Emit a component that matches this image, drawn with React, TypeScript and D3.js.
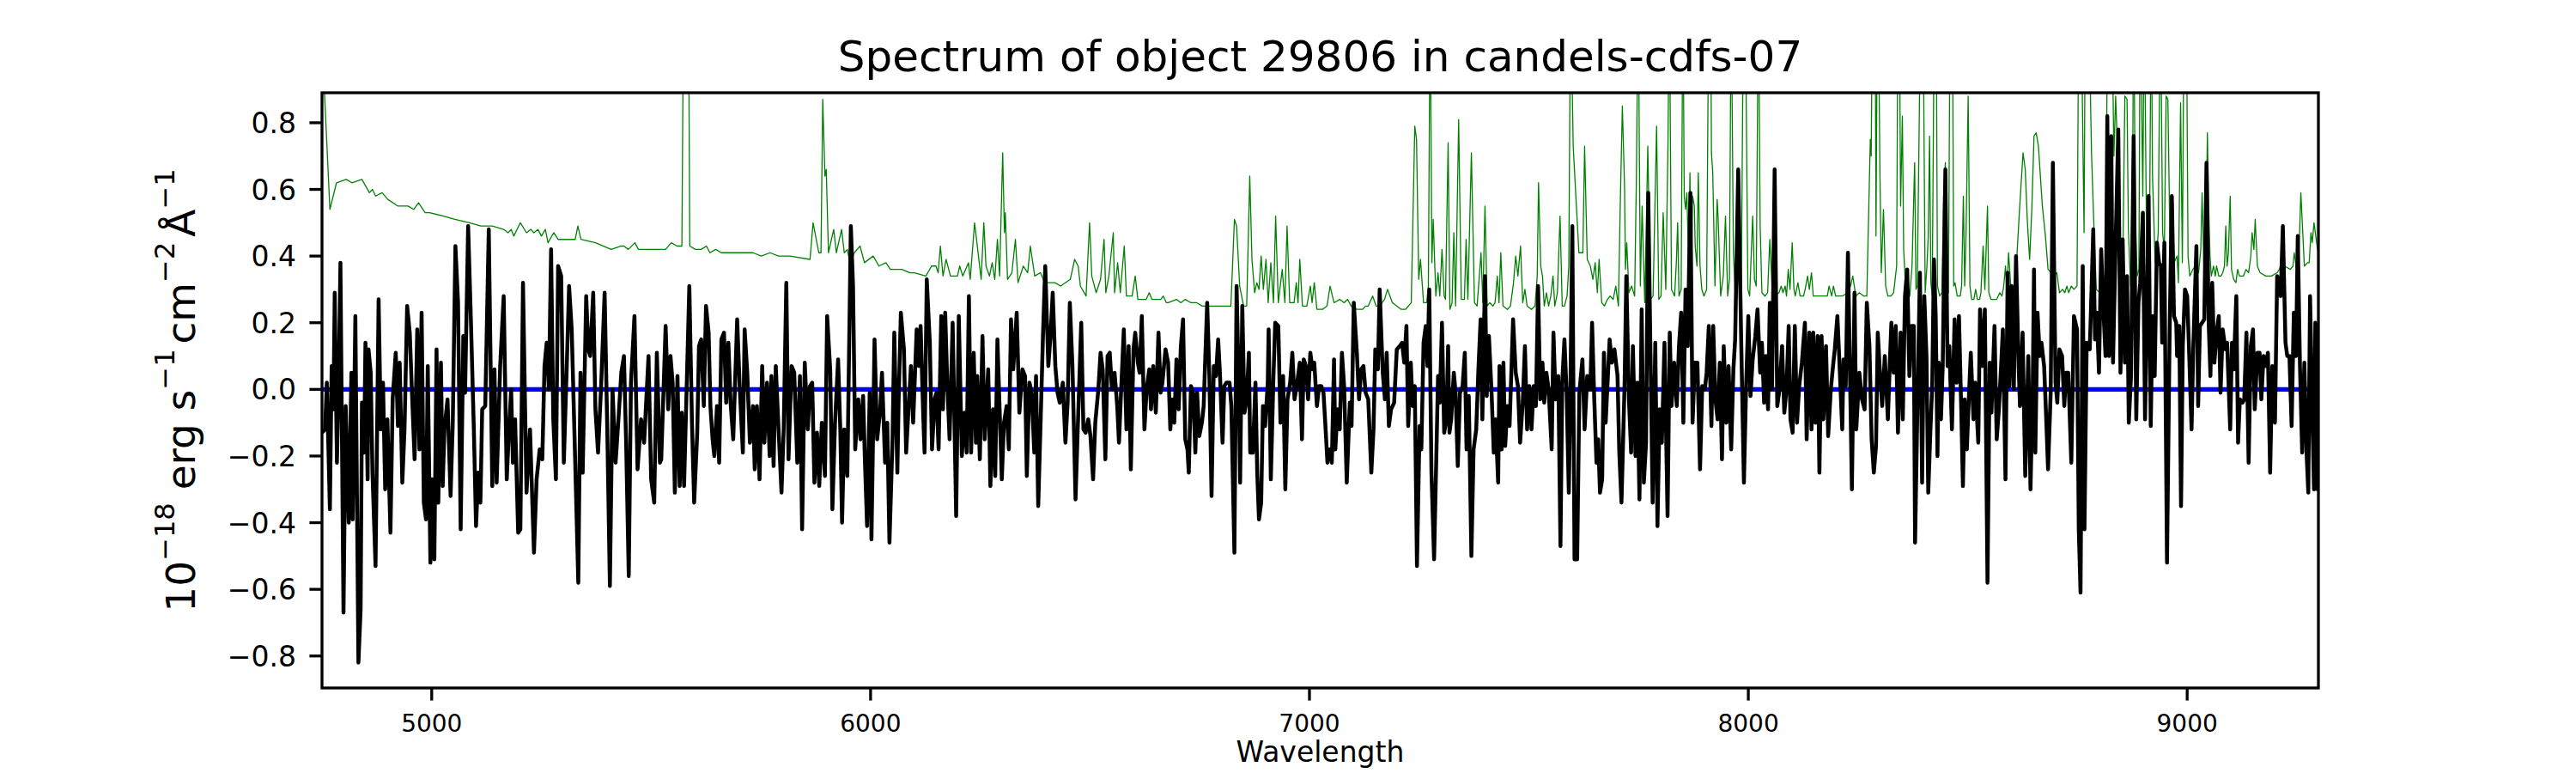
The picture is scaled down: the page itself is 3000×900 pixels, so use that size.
import * as d3 from "d3";

type Pt = [number, number];

const title = "Spectrum of object 29806 in candels-cdfs-07";
const xLabel = "Wavelength";
const xTicks = [5000, 6000, 7000, 8000, 9000];
const yTicks = [-0.8, -0.6, -0.4, -0.2, 0, 0.2, 0.4, 0.6, 0.8];
const xLimits: [number, number] = [4750, 9299];
const yLimits: [number, number] = [-0.896, 0.89];
const zeroLevel = 0;

// flux in wavelength chunks
const fluxA: Pt[] = [[4750,-0.13],[4757,-0.12],[4761,0.02],[4768,-0.36],[4772,0.07],[4776,-0.06],[4779,0.29],[4784,-0.22],[4788,0.02],[4792,0.38],[4799,-0.67],[4804,-0.05],[4811,-0.40],[4817,0.05],[4820,-0.39],[4826,0.22],[4833,-0.82],[4838,-0.66],[4841,-0.04],[4846,-0.19],[4849,0.14],[4854,-0.27],[4856,0.12],[4861,0.05],[4865,-0.25],[4872,-0.53],[4879,0.27],[4884,-0.12],[4889,0.02],[4894,-0.30],[4899,-0.09],[4906,-0.43],[4911,-0.03],[4918,0.11],[4923,-0.11],[4927,0.08],[4933,-0.28],[4938,-0.12],[4944,0.25],[4950,0.17],[4955,-0.01],[4961,-0.21],[4967,0.18],[4972,-0.18],[4977,0.23],[4982,-0.34],[4987,-0.39],[4991,0.07],[4997,-0.52],[5001,-0.27],[5006,-0.51],[5011,0.12],[5015,-0.34],[5021,0.08],[5025,-0.29],[5029,-0.12],[5036,-0.03],[5043,-0.32],[5048,-0.10],[5054,0.43],[5060,0.26],[5066,-0.42],[5072,0.16],[5076,-0.01],[5083,0.49],[5089,0.22],[5096,-0.12],[5101,-0.41],[5106,-0.25],[5111,-0.34],[5115,-0.06],[5122,-0.05],[5130,0.48],[5138,-0.29],[5143,0.06],[5148,-0.28],[5156,0.07],[5164,0.28],[5171,-0.27],[5175,-0.15],[5181,0.00],[5185,-0.22],[5190,-0.09],[5197,-0.43],[5202,-0.42],[5208,0.32],[5216,-0.31],[5224,-0.12],[5233,-0.49],[5239,-0.27],[5246,-0.18],[5252,-0.21],[5257,0.07],[5262,0.14],[5267,0.00],[5272,0.42],[5277,-0.09],[5283,-0.27],[5288,0.37],[5295,0.34],[5301,-0.22],[5308,0.08],[5313,0.31],[5319,0.18],[5326,-0.17],[5334,-0.58],[5339,0.05],[5344,-0.25],[5352,0.28],[5357,0.12],[5361,0.10],[5368,0.29],[5373,-0.06],[5379,-0.19],[5386,0.01],[5394,0.29],[5400,-0.12],[5406,-0.59],[5412,0.00],[5419,-0.22],[5425,-0.10],[5432,0.05],[5438,0.10],[5443,-0.16],[5449,-0.56],[5454,0.02],[5462,0.22],[5469,-0.24],[5477,-0.09],[5484,-0.16],[5494,0.10],[5500,-0.27],[5507,-0.34],[5513,0.11],[5520,-0.22]];
const fluxB: Pt[] = [[5523,-0.21],[5533,0.19],[5539,-0.06],[5544,0.10],[5549,0.02],[5554,-0.31],[5560,0.04],[5565,-0.29],[5570,-0.07],[5575,-0.29],[5580,-0.04],[5587,0.31],[5593,-0.10],[5598,-0.34],[5605,-0.13],[5609,0.13],[5614,0.15],[5620,-0.05],[5625,0.25],[5631,0.17],[5635,-0.05],[5640,-0.15],[5644,-0.20],[5650,-0.05],[5655,-0.22],[5660,0.15],[5666,0.17],[5671,-0.04],[5676,0.14],[5681,-0.04],[5687,-0.15],[5696,0.21],[5702,0.00],[5709,-0.19],[5713,0.18],[5719,0.05],[5725,-0.16],[5732,-0.05],[5736,-0.24],[5741,-0.05],[5747,-0.27],[5753,0.07],[5758,-0.16],[5764,0.02],[5770,-0.20],[5774,0.04],[5779,-0.23],[5784,0.07],[5790,-0.11],[5797,-0.31],[5802,-0.12],[5808,0.32],[5813,-0.21],[5820,0.07],[5826,0.05],[5833,-0.22],[5839,0.04],[5844,-0.42],[5850,0.08],[5857,-0.12],[5862,0.01],[5867,0.02],[5872,-0.28],[5878,-0.13],[5883,-0.29],[5889,-0.10],[5896,-0.26],[5901,0.22],[5908,0.06],[5913,-0.36],[5919,-0.10],[5926,0.09],[5931,-0.12],[5935,-0.40],[5940,-0.12],[5947,-0.26],[5955,0.49],[5960,0.31],[5965,-0.18],[5972,-0.03],[5977,-0.15],[5983,-0.02],[5987,-0.21],[5992,-0.41],[5998,-0.01],[6002,-0.45],[6009,0.15],[6015,-0.15],[6022,-0.06],[6026,0.05],[6033,-0.22],[6038,-0.10],[6043,-0.46],[6050,-0.15],[6054,0.17],[6061,-0.25],[6064,-0.03],[6069,0.23],[6076,0.12],[6081,-0.19],[6086,-0.07],[6092,0.07],[6097,-0.10]];
const fluxC: Pt[] = [[6105,0.18],[6110,0.07],[6114,0.19],[6120,-0.08],[6123,-0.19],[6128,0.33],[6135,0.14],[6140,-0.18],[6146,-0.03],[6150,-0.01],[6155,-0.18],[6161,0.22],[6165,-0.06],[6170,0.23],[6175,0.01],[6180,-0.15],[6187,0.20],[6195,-0.38],[6201,0.22],[6208,-0.20],[6214,-0.07],[6219,-0.19],[6224,0.28],[6229,-0.19],[6235,0.11],[6240,-0.16],[6243,0.04],[6249,-0.21],[6255,0.16],[6260,-0.15],[6268,0.06],[6273,-0.29],[6279,-0.06],[6284,-0.26],[6289,0.15],[6294,-0.06],[6299,-0.27],[6304,-0.10],[6310,-0.05],[6315,-0.18],[6320,0.21],[6325,0.06],[6333,0.23],[6339,-0.07],[6346,0.06],[6352,0.04],[6356,-0.26],[6362,0.02],[6367,-0.01],[6373,-0.19],[6377,0.04],[6382,-0.35],[6388,-0.07],[6393,0.17],[6398,0.37],[6405,0.07],[6410,0.16],[6415,0.29],[6421,0.07],[6426,-0.01],[6431,-0.04],[6438,0.02],[6444,-0.16],[6449,-0.04],[6454,0.26],[6460,0.07],[6467,-0.33],[6473,-0.08],[6480,0.20],[6485,-0.12],[6490,-0.13],[6496,-0.09],[6501,-0.14],[6507,-0.27],[6512,-0.10],[6519,0.00],[6524,0.11],[6529,0.06],[6535,-0.21],[6540,0.10],[6545,0.11],[6550,0.00],[6556,0.05],[6562,-0.05],[6566,-0.16],[6571,0.00],[6577,0.18],[6583,-0.12],[6588,0.13],[6593,-0.24],[6599,0.12],[6603,0.17],[6609,0.08],[6613,0.05],[6618,0.22],[6624,-0.12],[6629,0.00],[6635,0.06],[6639,-0.06],[6644,0.07],[6650,-0.07],[6656,0.17],[6661,-0.01],[6665,0.02],[6672,0.12]];
const fluxD: Pt[] = [[6678,0.08],[6683,-0.12],[6687,-0.03],[6692,-0.10],[6697,0.09],[6702,-0.06],[6707,0.13],[6712,0.21],[6717,-0.15],[6722,-0.18],[6725,-0.25],[6730,0.01],[6735,-0.01],[6740,-0.19],[6744,-0.01],[6749,-0.14],[6755,-0.10],[6759,-0.05],[6762,0.07],[6767,0.26],[6772,0.04],[6777,-0.32],[6782,0.07],[6787,0.04],[6792,0.15],[6796,0.05],[6802,-0.16],[6806,0.01],[6811,0.02],[6818,0.02],[6822,-0.05],[6829,-0.49],[6834,0.31],[6839,0.01],[6842,-0.28],[6847,0.25],[6852,-0.07],[6857,-0.03],[6862,0.11],[6865,-0.19],[6871,-0.19],[6877,0.02],[6881,-0.25],[6885,-0.39],[6890,-0.34],[6894,-0.05],[6899,-0.11],[6905,0.02],[6907,0.18],[6912,-0.27],[6918,0.04],[6922,0.20],[6929,0.19],[6934,-0.10],[6940,0.04],[6945,-0.30],[6950,-0.03],[6956,0.02],[6961,0.11],[6966,-0.03],[6972,0.02],[6978,0.08],[6983,-0.15],[6987,0.09],[6992,0.07],[6997,-0.03],[7002,0.11],[7007,0.06],[7011,0.08],[7017,-0.05],[7022,0.01],[7027,0.01],[7032,-0.01],[7036,-0.10],[7041,-0.22],[7046,-0.18],[7051,-0.22],[7056,0.09],[7059,-0.18],[7064,-0.06],[7069,-0.12],[7074,0.11],[7079,0.01],[7085,-0.28],[7092,-0.04],[7096,-0.11],[7101,0.26],[7108,0.11],[7113,-0.03],[7118,0.06],[7123,0.07],[7128,-0.01],[7134,-0.03],[7141,-0.25],[7146,-0.12],[7150,0.12],[7156,0.06],[7160,0.30],[7167,0.05],[7172,-0.03],[7176,0.11],[7181,-0.11],[7186,-0.06],[7193,-0.04],[7199,0.12],[7206,0.13],[7211,0.14],[7216,0.08],[7221,0.19],[7225,-0.11],[7231,0.08],[7235,-0.05],[7240,0.01],[7245,-0.53],[7251,-0.11]];
const fluxE: Pt[] = [[7255,-0.18],[7260,0.14],[7265,0.19],[7269,0.07],[7273,0.30],[7278,-0.25],[7284,-0.51],[7289,-0.21],[7293,0.04],[7297,-0.04],[7302,0.20],[7307,-0.13],[7312,-0.09],[7316,0.13],[7319,-0.13],[7323,-0.09],[7329,0.05],[7333,-0.01],[7338,-0.23],[7343,-0.01],[7349,0.01],[7354,0.11],[7358,-0.18],[7363,-0.02],[7369,-0.50],[7374,-0.18],[7380,-0.12],[7385,0.06],[7390,0.21],[7394,-0.09],[7400,0.34],[7404,-0.02],[7409,0.16],[7415,-0.01],[7420,-0.19],[7424,-0.09],[7430,-0.28],[7433,0.07],[7438,-0.18],[7442,0.08],[7446,-0.17],[7451,-0.05],[7456,-0.11],[7464,0.21],[7470,0.05],[7475,0.01],[7480,-0.16],[7486,-0.04],[7491,0.13],[7496,-0.12],[7501,0.01],[7506,-0.12],[7511,0.01],[7516,-0.05],[7521,0.31],[7526,-0.03],[7531,0.08],[7535,-0.04],[7540,0.05],[7545,0.00],[7552,-0.18],[7556,0.17],[7561,-0.03],[7567,0.04],[7572,-0.47],[7576,0.02],[7581,0.15],[7586,-0.01],[7591,-0.31],[7594,-0.07],[7599,0.49],[7604,-0.51],[7610,-0.51],[7615,-0.01],[7622,0.09],[7627,-0.12],[7633,0.04],[7640,0.00],[7644,0.20],[7649,-0.03],[7654,-0.22],[7658,-0.15],[7662,-0.31],[7667,-0.27],[7671,0.11],[7675,-0.10],[7684,0.15],[7689,0.08],[7695,0.12],[7702,0.04],[7706,-0.19],[7711,-0.34],[7718,0.01],[7722,0.34],[7728,-0.03],[7733,-0.19],[7737,0.13],[7743,-0.20],[7747,0.02],[7752,-0.33],[7757,0.24],[7762,-0.28],[7767,-0.16],[7772,0.59],[7777,0.11],[7782,-0.34],[7788,0.14],[7793,-0.41],[7798,-0.06],[7803,-0.16],[7809,0.14],[7816,-0.38],[7821,0.17],[7825,-0.05],[7831,0.08]];
const fluxF: Pt[] = [[7837,-0.05],[7842,0.13],[7847,0.23],[7852,-0.10],[7857,0.30],[7862,0.13],[7868,0.59],[7873,-0.10],[7878,0.08],[7884,0.08],[7890,-0.24],[7895,0.01],[7901,0.00],[7905,0.05],[7910,0.19],[7916,-0.11],[7920,0.19],[7925,-0.03],[7930,-0.09],[7935,0.08],[7940,-0.21],[7944,0.13],[7950,-0.10],[7955,0.07],[7961,-0.18],[7966,0.06],[7970,0.15],[7977,0.66],[7984,0.13],[7990,-0.28],[7995,0.01],[8000,0.22],[8005,-0.02],[8010,0.09],[8016,0.16],[8021,0.24],[8027,0.05],[8031,0.14],[8036,-0.04],[8040,0.10],[8045,-0.06],[8049,0.26],[8054,0.00],[8060,0.66],[8066,-0.05],[8071,0.00],[8077,0.13],[8082,-0.07],[8087,0.00],[8092,0.19],[8096,-0.09],[8101,-0.13],[8106,0.19],[8111,-0.10],[8116,0.01],[8122,0.08],[8129,0.20],[8133,-0.15],[8139,0.17],[8144,-0.12],[8148,0.17],[8153,-0.10],[8158,0.16],[8162,-0.25],[8167,0.16],[8171,-0.09],[8177,0.13],[8182,-0.14],[8188,0.00],[8193,0.07],[8197,0.12],[8203,0.22],[8207,0.10],[8214,-0.12],[8217,0.09],[8222,0.01],[8227,0.41],[8231,0.10],[8236,-0.30],[8242,0.29],[8246,-0.12],[8253,0.05],[8259,-0.03],[8265,-0.06],[8270,0.26],[8276,0.13],[8281,-0.15],[8286,-0.25],[8291,-0.17],[8295,0.17],[8300,0.05],[8305,-0.05],[8311,0.10],[8318,-0.09],[8323,0.10],[8326,0.20],[8331,0.05],[8336,0.19],[8341,-0.13],[8347,0.17],[8352,-0.09],[8357,0.28],[8362,0.36],[8367,0.04],[8372,0.19],[8377,0.19],[8380,-0.46],[8386,0.00],[8391,0.35],[8396,-0.28],[8401,0.28],[8406,0.10]];
const fluxG: Pt[] = [[8410,-0.31],[8415,-0.12],[8419,0.01],[8423,0.39],[8427,0.22],[8431,-0.20],[8434,0.08],[8439,-0.09],[8443,0.07],[8449,0.66],[8454,0.07],[8458,0.13],[8464,-0.12],[8470,0.21],[8475,0.02],[8480,0.22],[8485,-0.05],[8489,-0.29],[8493,-0.03],[8498,-0.18],[8503,-0.01],[8507,0.11],[8513,-0.09],[8517,0.02],[8524,-0.16],[8528,0.24],[8533,0.07],[8539,0.24],[8545,-0.58],[8550,0.08],[8554,-0.07],[8561,0.19],[8566,-0.15],[8571,-0.06],[8576,0.07],[8580,0.18],[8586,-0.27],[8591,0.35],[8595,0.01],[8600,0.31],[8605,0.00],[8610,0.40],[8616,0.07],[8619,-0.05],[8625,0.17],[8631,-0.26],[8638,0.10],[8643,-0.30],[8648,0.00],[8651,0.36],[8654,-0.19],[8659,0.23],[8664,0.10],[8668,0.14],[8674,0.07],[8678,-0.06],[8683,-0.24],[8689,-0.01],[8694,0.68],[8700,0.02],[8704,-0.04],[8709,0.12],[8715,0.10],[8720,-0.05],[8724,0.05],[8729,0.05],[8736,-0.22],[8742,0.22],[8749,0.18],[8753,-0.42],[8757,-0.61],[8762,0.37],[8766,-0.42],[8771,0.14],[8778,0.12],[8781,0.25],[8786,0.48],[8790,0.15],[8794,0.23],[8799,0.05],[8804,0.42],[8809,0.24],[8814,0.10],[8818,0.82],[8822,0.10],[8827,0.76],[8831,0.08],[8837,0.44],[8843,0.78],[8848,0.05],[8853,0.45],[8858,0.08],[8863,0.34],[8867,-0.10],[8872,0.04],[8878,0.76],[8884,-0.09],[8889,0.26],[8893,0.32],[8899,0.53],[8904,-0.09],[8908,0.20],[8912,0.58],[8917,-0.11],[8921,0.22],[8926,0.04],[8931,0.44],[8936,0.38],[8940,0.37],[8943,0.14],[8948,0.44],[8954,-0.52],[8960,0.17],[8965,0.58],[8970,0.22],[8975,0.20]];
const fluxH: Pt[] = [[8977,0.10],[8982,0.19],[8986,-0.35],[8990,0.13],[8995,0.30],[9000,0.28],[9004,0.13],[9010,-0.12],[9014,0.13],[9021,0.43],[9025,-0.05],[9029,0.19],[9034,0.20],[9039,0.21],[9044,0.68],[9049,0.20],[9053,0.04],[9057,0.32],[9062,0.08],[9067,0.17],[9072,0.22],[9076,-0.01],[9081,0.18],[9087,0.12],[9091,0.14],[9098,-0.12],[9102,0.14],[9106,0.06],[9112,0.28],[9116,-0.16],[9120,-0.03],[9126,-0.04],[9130,-0.03],[9135,0.17],[9140,-0.22],[9145,0.13],[9150,0.18],[9154,-0.06],[9160,0.11],[9165,0.11],[9169,-0.03],[9174,0.10],[9179,0.07],[9184,0.11],[9189,-0.25],[9194,0.07],[9200,-0.10],[9205,0.34],[9210,0.32],[9213,0.28],[9218,0.49],[9224,0.14],[9228,0.10],[9233,0.10],[9238,-0.11],[9243,0.23],[9248,0.10],[9252,0.46],[9257,0.07],[9262,-0.19],[9267,0.08],[9272,-0.19],[9276,-0.31],[9280,0.28],[9285,-0.06],[9289,-0.30],[9292,0.20],[9297,-0.30],[9301,0.20]];

// noise spectrum (green); 1.2 marks spikes that run off the top of the axes
const noiseA: Pt[] = [[4750,1.05],[4768,0.54],[4783,0.62],[4805,0.63],[4818,0.62],[4841,0.63],[4858,0.59],[4865,0.60],[4872,0.58],[4887,0.59],[4900,0.57],[4923,0.55],[4946,0.55],[4959,0.54],[4970,0.56],[4985,0.53],[4995,0.53],[5027,0.52],[5053,0.51],[5086,0.50],[5112,0.49],[5125,0.49],[5138,0.49],[5164,0.48],[5174,0.47],[5181,0.48],[5187,0.46],[5202,0.50],[5216,0.47],[5226,0.48],[5233,0.47],[5242,0.48],[5250,0.46],[5259,0.48],[5265,0.44],[5278,0.47],[5288,0.45],[5308,0.45],[5327,0.45],[5333,0.49],[5340,0.45],[5373,0.44],[5409,0.42],[5432,0.43],[5438,0.43],[5448,0.42],[5463,0.44],[5471,0.42],[5503,0.42]];
const noiseB: Pt[] = [[5523,0.42],[5533,0.42],[5546,0.44],[5559,0.43],[5570,0.43],[5574,1.2],[5585,1.2],[5588,0.43],[5601,0.42],[5614,0.42],[5626,0.43],[5634,0.41],[5647,0.42],[5660,0.41],[5680,0.41],[5699,0.41],[5732,0.41],[5751,0.40],[5771,0.41],[5790,0.40],[5816,0.40],[5862,0.39],[5869,0.50],[5882,0.41],[5887,0.41],[5891,0.87],[5896,0.64],[5899,0.66],[5904,0.41],[5916,0.48],[5922,0.41],[5934,0.48],[5940,0.41],[5947,0.42],[5953,0.38],[5963,0.41],[5976,0.43],[5986,0.38],[6006,0.40],[6019,0.37],[6035,0.38],[6045,0.36],[6071,0.36],[6090,0.35]];
const noiseC: Pt[] = [[6100,0.35],[6126,0.34],[6139,0.37],[6149,0.37],[6154,0.35],[6159,0.43],[6165,0.34],[6172,0.39],[6182,0.34],[6198,0.34],[6203,0.37],[6210,0.34],[6223,0.38],[6227,0.33],[6237,0.50],[6252,0.33],[6258,0.50],[6263,0.37],[6271,0.34],[6277,0.38],[6283,0.33],[6289,0.45],[6294,0.34],[6301,0.71],[6305,0.47],[6307,0.53],[6312,0.33],[6322,0.35],[6330,0.45],[6336,0.32],[6348,0.37],[6358,0.35],[6364,0.43],[6374,0.34],[6387,0.35],[6397,0.32],[6410,0.32],[6420,0.32],[6433,0.31],[6455,0.33],[6465,0.39],[6473,0.37],[6478,0.31],[6491,0.28],[6499,0.50],[6504,0.34],[6514,0.29],[6524,0.33],[6532,0.45],[6536,0.29],[6543,0.34],[6553,0.47],[6556,0.29],[6563,0.38],[6569,0.29],[6578,0.43],[6583,0.28],[6596,0.28],[6603,0.34],[6609,0.27],[6628,0.27],[6635,0.29],[6641,0.27],[6661,0.27],[6667,0.28],[6674,0.26]];
const noiseD: Pt[] = [[6678,0.26],[6697,0.27],[6707,0.26],[6717,0.27],[6730,0.26],[6743,0.26],[6756,0.25],[6782,0.25],[6795,0.25],[6821,0.25],[6829,0.51],[6834,0.49],[6841,0.31],[6850,0.25],[6857,0.25],[6864,0.64],[6869,0.39],[6875,0.29],[6880,0.32],[6885,0.30],[6890,0.40],[6895,0.30],[6901,0.39],[6906,0.26],[6912,0.38],[6918,0.26],[6923,0.52],[6929,0.26],[6938,0.36],[6944,0.26],[6949,0.49],[6955,0.26],[6965,0.26],[6970,0.32],[6974,0.26],[6978,0.39],[6984,0.25],[6994,0.25],[7002,0.31],[7006,0.26],[7011,0.32],[7017,0.24],[7030,0.24],[7040,0.25],[7047,0.31],[7056,0.26],[7069,0.27],[7079,0.26],[7087,0.27],[7095,0.25],[7108,0.24],[7121,0.24],[7128,0.25],[7134,0.25],[7144,0.28],[7152,0.25],[7160,0.25],[7171,0.27],[7178,0.30],[7189,0.26],[7199,0.25],[7209,0.24],[7219,0.24],[7232,0.26],[7240,0.79],[7244,0.75],[7249,0.33],[7253,0.39]];
const noiseE: Pt[] = [[7260,0.26],[7267,0.26],[7271,0.31],[7275,1.2],[7279,0.38],[7282,0.51],[7288,0.28],[7293,0.35],[7297,0.28],[7302,0.42],[7307,0.28],[7310,0.27],[7316,0.74],[7320,0.24],[7325,0.26],[7329,0.47],[7333,0.25],[7340,0.81],[7346,0.27],[7353,0.27],[7357,0.45],[7361,0.27],[7369,0.71],[7376,0.26],[7382,0.25],[7391,0.41],[7395,0.26],[7400,0.55],[7405,0.25],[7411,0.26],[7418,0.25],[7423,0.26],[7428,0.34],[7432,0.26],[7436,0.41],[7441,0.25],[7451,0.24],[7458,0.25],[7465,0.32],[7470,0.40],[7475,0.34],[7481,0.43],[7486,0.26],[7491,0.30],[7496,0.25],[7506,0.24],[7514,0.25],[7519,0.34],[7522,0.62],[7527,0.37],[7531,0.34],[7535,0.25],[7540,0.29],[7545,0.25],[7550,0.28],[7555,0.34],[7559,0.25],[7565,0.29],[7571,0.52],[7576,0.25],[7581,0.25],[7587,0.28],[7591,0.37],[7595,1.2],[7601,0.73],[7607,0.58],[7614,0.41],[7623,0.41],[7627,0.73],[7633,0.39],[7640,0.37],[7646,0.33],[7651,0.38],[7656,0.29],[7660,0.39],[7666,0.26],[7672,0.25],[7679,0.27],[7685,0.28],[7692,0.27],[7698,0.31],[7704,0.25],[7708,0.54],[7713,0.85],[7718,0.61],[7720,0.36],[7723,0.44],[7728,0.29],[7734,0.31],[7741,0.28],[7745,0.64],[7749,1.2],[7754,0.31],[7758,0.55],[7764,0.26],[7771,0.73],[7777,0.27],[7783,0.28],[7791,0.79],[7796,0.27],[7801,0.28],[7806,0.53],[7812,0.30],[7817,0.74],[7820,1.2],[7825,0.30]];
const noiseF: Pt[] = [[7832,0.28],[7836,0.38],[7839,0.50],[7842,0.28],[7847,0.30],[7851,1.2],[7854,0.58],[7857,0.54],[7860,0.59],[7864,0.38],[7867,0.65],[7870,0.31],[7873,0.58],[7877,0.55],[7879,0.43],[7883,0.37],[7886,0.65],[7890,0.37],[7894,0.30],[7899,0.28],[7905,0.30],[7910,1.2],[7914,1.2],[7916,0.71],[7919,0.65],[7924,0.31],[7929,0.57],[7931,0.52],[7937,0.28],[7943,0.34],[7948,0.52],[7953,0.28],[7957,0.33],[7961,1.2],[7966,0.41],[7970,0.29],[7976,0.34],[7984,0.29],[7989,1.2],[7993,1.2],[7999,0.30],[8003,0.28],[8010,0.52],[8014,0.33],[8018,0.31],[8023,1.2],[8027,0.49],[8031,0.29],[8038,0.28],[8044,0.29],[8049,0.45],[8054,0.31],[8060,0.28],[8070,0.29],[8075,0.31],[8079,0.29],[8084,0.31],[8087,0.28],[8091,0.36],[8095,0.30],[8100,0.44],[8104,0.30],[8107,0.28],[8113,0.32],[8118,0.28],[8126,0.28],[8131,0.31],[8135,0.34],[8139,0.30],[8144,0.35],[8148,0.28],[8155,0.28],[8168,0.28],[8175,0.28],[8180,0.28],[8184,0.31],[8190,0.28],[8194,0.31],[8199,0.28],[8214,0.28],[8227,0.29],[8233,0.31],[8238,0.34],[8245,0.28],[8253,0.29],[8263,0.28],[8270,0.28],[8278,0.75],[8280,0.70],[8283,1.2],[8289,1.2],[8291,0.46],[8294,1.2],[8296,1.2],[8300,0.64],[8303,0.35],[8308,0.54],[8313,0.31],[8318,0.28],[8325,0.28],[8331,0.29],[8338,0.37],[8341,1.2],[8344,1.2],[8347,0.55],[8351,0.82],[8354,0.42],[8359,0.29],[8364,0.31],[8368,0.28],[8373,0.37],[8379,0.68],[8382,0.30],[8385,0.31],[8393,1.2],[8398,1.2],[8403,0.29],[8407,0.37]];
const noiseG: Pt[] = [[8410,0.46],[8413,0.76],[8416,0.32],[8419,0.28],[8424,1.2],[8428,1.2],[8431,0.31],[8436,0.28],[8441,0.29],[8445,0.58],[8449,0.68],[8452,0.35],[8456,0.29],[8460,1.2],[8465,1.2],[8468,0.31],[8471,0.32],[8476,0.28],[8483,0.28],[8486,0.31],[8490,0.58],[8493,0.31],[8496,0.46],[8501,0.88],[8505,0.31],[8509,0.27],[8514,0.27],[8518,0.30],[8522,0.27],[8527,0.27],[8530,0.29],[8535,0.43],[8539,0.30],[8545,0.55],[8548,0.29],[8553,0.27],[8566,0.27],[8573,0.29],[8578,0.28],[8582,0.31],[8586,0.37],[8589,0.29],[8593,0.41],[8599,0.29],[8605,0.29],[8612,0.40],[8618,0.54],[8626,0.71],[8631,0.66],[8636,0.50],[8641,0.39],[8646,0.54],[8651,0.76],[8656,0.77],[8661,0.73],[8665,0.65],[8670,0.55],[8677,0.46],[8683,0.36],[8690,0.35],[8696,0.34],[8703,0.35],[8709,0.29],[8716,0.30],[8721,0.29],[8726,0.31],[8730,0.29],[8736,0.31],[8742,0.30],[8749,0.31],[8753,1.2],[8758,1.2],[8765,0.47],[8768,1.2],[8775,1.2],[8782,0.71],[8788,0.47],[8793,0.30],[8801,0.29],[8807,0.31],[8814,0.35],[8819,1.2],[8824,1.2],[8828,1.2],[8833,0.70],[8837,0.88],[8843,0.65],[8848,0.44],[8853,0.35],[8858,0.88],[8863,0.87],[8866,0.48],[8871,0.31],[8876,0.70],[8878,1.2],[8882,0.50],[8886,0.34],[8890,0.36],[8893,1.2],[8899,0.58],[8902,1.2],[8908,0.38],[8914,0.42],[8918,1.2],[8921,0.64],[8927,0.38],[8931,0.42],[8934,0.47],[8939,1.2],[8944,0.47],[8948,0.42],[8952,0.88],[8956,0.87],[8961,0.42],[8967,0.58],[8970,0.38],[8977,0.40]];
const noiseH: Pt[] = [[8980,0.32],[8985,0.86],[8989,0.38],[8993,1.2],[8998,1.2],[9002,0.40],[9006,0.34],[9013,0.36],[9019,0.37],[9026,0.35],[9031,0.42],[9034,0.59],[9038,0.37],[9042,0.36],[9046,0.77],[9049,0.55],[9052,0.40],[9055,0.34],[9060,0.37],[9064,0.34],[9067,0.37],[9072,0.34],[9077,0.34],[9081,0.35],[9085,0.37],[9088,0.49],[9091,0.37],[9094,0.41],[9098,0.58],[9101,0.36],[9106,0.33],[9111,0.32],[9115,0.36],[9119,0.34],[9128,0.34],[9134,0.36],[9140,0.35],[9145,0.40],[9148,0.47],[9152,0.42],[9155,0.51],[9160,0.37],[9166,0.35],[9179,0.34],[9192,0.34],[9205,0.35],[9210,0.36],[9215,0.38],[9222,0.37],[9235,0.36],[9241,0.37],[9244,0.41],[9250,0.35],[9254,0.38],[9259,0.59],[9263,0.48],[9267,0.37],[9274,0.38],[9278,0.38],[9282,0.47],[9285,0.44],[9289,0.50],[9293,0.46],[9297,0.42],[9301,0.45]];

const flux = [...fluxA, ...fluxB, ...fluxC, ...fluxD, ...fluxE, ...fluxF, ...fluxG, ...fluxH];
const noise = [...noiseA, ...noiseB, ...noiseC, ...noiseD, ...noiseE, ...noiseF, ...noiseG, ...noiseH];

const width = 3000;
const height = 900;
const margin = { left: 375, right: 300, top: 108, bottom: 99 };
const font = "DejaVu Sans, sans-serif";
const tickLen = 14.6;
const spineW = 3.3;

export default function App() {
  const x = d3.scaleLinear().domain(xLimits).range([margin.left, width - margin.right]);
  const y = d3.scaleLinear().domain(yLimits).range([height - margin.bottom, margin.top]);
  const line = d3.line<Pt>().x((d) => x(d[0])).y((d) => y(d[1]));
  const fmt = d3.format(".1f");

  const [x0, x1] = x.range();
  const [yb, yt] = y.range();

  // superscript pieces of the y label
  const sup = { fontSize: 32 };
  const raise = 24;

  return (
    <svg
      width={width}
      height={height}
      viewBox={`0 0 ${width} ${height}`}
      style={{ position: "absolute", left: 0, top: 0, background: "#fff" }}
      fontFamily={font}
    >
      <rect x={0} y={0} width={width} height={height} fill="#fff" />
      <defs>
        <clipPath id="plotArea">
          <rect x={x0} y={yt} width={x1 - x0} height={yb - yt} />
        </clipPath>
      </defs>

      <g clipPath="url(#plotArea)">
        <line x1={x0} x2={x1} y1={y(zeroLevel)} y2={y(zeroLevel)} stroke="#0000ff" strokeWidth={5.2} />
        <path d={line(noise) ?? ""} fill="none" stroke="#008000" strokeWidth={1.3} strokeLinejoin="round" />
        <path d={line(flux) ?? ""} fill="none" stroke="#000" strokeWidth={4.5} strokeLinejoin="round" />
      </g>

      {/* frame */}
      <rect x={x0} y={yt} width={x1 - x0} height={yb - yt} fill="none" stroke="#000" strokeWidth={spineW} />

      {/* x axis */}
      <g>
        {xTicks.map((t) => (
          <g key={t}>
            <line x1={x(t)} x2={x(t)} y1={yb} y2={yb + tickLen} stroke="#000" strokeWidth={spineW} />
            <text x={x(t)} y={852} fontSize={28} textAnchor="middle">{t}</text>
          </g>
        ))}
        <text x={(x0 + x1) / 2} y={887} fontSize={33} textAnchor="middle">{xLabel}</text>
      </g>

      {/* y axis */}
      <g>
        {yTicks.map((t) => (
          <g key={t}>
            <line x1={x0 - tickLen} x2={x0} y1={y(t)} y2={y(t)} stroke="#000" strokeWidth={spineW} />
            <text x={345} y={y(t) + 12} fontSize={33} textAnchor="end">{fmt(t)}</text>
          </g>
        ))}
        <text
          transform={`translate(227,${(yb + yt) / 2}) rotate(-90)`}
          fontSize={47}
          textAnchor="middle"
          style={{ whiteSpace: "pre" }}
        >
          <tspan>10</tspan>
          <tspan {...sup} dy={-raise}>−18</tspan>
          <tspan dy={raise}> erg s</tspan>
          <tspan {...sup} dy={-raise}>−1</tspan>
          <tspan dy={raise} dx={6}>cm</tspan>
          <tspan {...sup} dy={-raise}>−2</tspan>
          <tspan dy={raise} dx={6}>Å</tspan>
          <tspan {...sup} dy={-raise}>−1</tspan>
        </text>
      </g>

      <text x={(x0 + x1) / 2} y={83} fontSize={50} textAnchor="middle">{title}</text>
    </svg>
  );
}
